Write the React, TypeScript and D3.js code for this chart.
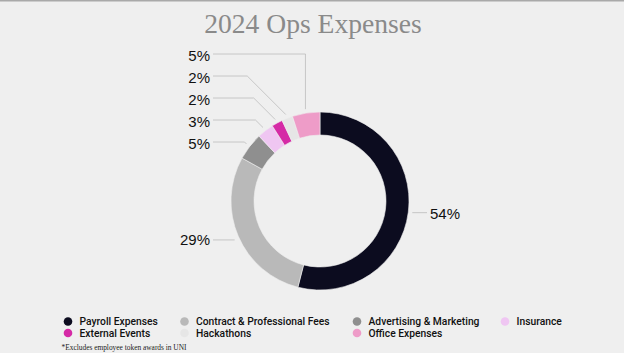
import React, { useMemo } from "react";
import * as d3 from "d3";

const categories = [
  "Payroll Expenses",
  "Contract & Professional Fees",
  "Advertising & Marketing",
  "Insurance",
  "External Events",
  "Hackathons",
  "Office Expenses",
];
const values = [54, 29, 5, 3, 2, 2, 5];
const colors = ["#0c0c1f", "#b9b9b9", "#8f8f8f", "#efc6f2", "#d52aa6", "#e6e6e6", "#ee9cc8"];

const WIDTH = 624;
const HEIGHT = 353;
const CX = 320;
const CY = 201;
const OUTER = 89;
const INNER = 66;
const BG = "#efefef";
const LEGEND_COLS = [68, 184.5, 357, 505];
const LEGEND_ROWS = [321.5, 333];

interface Slice {
  name: string;
  value: number;
  color: string;
}

const App: React.FC = () => {
  const slices: Slice[] = categories.map((name, i) => ({
    name,
    value: values[i],
    color: colors[i],
  }));

  const arcs = useMemo(() => {
    return d3
      .pie<Slice>()
      .sort(null)
      .value((d) => d.value)(slices);
  }, []);

  const arcGen = d3
    .arc<d3.PieArcDatum<Slice>>()
    .innerRadius(INNER)
    .outerRadius(OUTER);

  const labelArc = d3
    .arc<d3.PieArcDatum<Slice>>()
    .innerRadius(OUTER + 4)
    .outerRadius(OUTER + 4);

  // leader lines + labels
  const stacked = arcs.filter(
    (a) => (a.startAngle + a.endAngle) / 2 > Math.PI * 1.5
  );
  const labels = arcs.map((a, i) => {
    const [ex, ey] = labelArc.centroid(a);
    const px = CX + ex;
    const py = CY + ey;
    const mid = (a.startAngle + a.endAngle) / 2;
    const text = `${a.data.value}%`;
    const si = stacked.indexOf(a);
    let points: [number, number][];
    let tx: number;
    let ty: number;
    let anchor = "end";
    if (si >= 0) {
      const lineY = 142 - si * 22;
      const kx =
        si === stacked.length - 1 ? px : px - Math.max(0, py - lineY);
      points = [
        [px, py],
        [kx, lineY],
        [213, lineY],
      ];
      tx = 210;
      ty = lineY + 1.5;
    } else if (mid < Math.PI) {
      points = [
        [px, py],
        [427, py],
      ];
      tx = 430;
      ty = py + 1;
      anchor = "start";
    } else {
      points = [
        [px, py + 2],
        [213, py + 2],
      ];
      tx = 210;
      ty = py + 1.5;
    }
    return (
      <g key={i}>
        <polyline
          points={points.map((p) => p.join(",")).join(" ")}
          fill="none"
          stroke="#bdbdbd"
          strokeWidth={0.8}
        />
        <text
          x={tx}
          y={ty}
          textAnchor={anchor}
          dominantBaseline="central"
          fontFamily="'Liberation Sans', Arial, sans-serif"
          fontSize={15}
          fill="#111"
        >
          {text}
        </text>
      </g>
    );
  });

  return (
    <svg
      width={WIDTH}
      height={HEIGHT}
      style={{ position: "absolute", left: 0, top: 0, background: BG }}
    >
      <rect x={0} y={0} width={WIDTH} height={1.5} fill="#a9a9a9" />
      <text
        x={313}
        y={33}
        textAnchor="middle"
        fontFamily="'Liberation Serif', 'Times New Roman', serif"
        fontSize={27.6}
        fill="#8a8a8a"
      >
        2024 Ops Expenses
      </text>
      <g transform={`translate(${CX},${CY})`}>
        {arcs.map((a, i) => (
          <path
            key={i}
            d={arcGen(a) || ""}
            fill={a.data.color}
            stroke={BG}
            strokeWidth={0.6}
          />
        ))}
      </g>
      {labels}
      <g>
        {slices.map((s, i) => {
          const x = LEGEND_COLS[i % 4];
          const y = LEGEND_ROWS[Math.floor(i / 4)];
          return (
            <g key={i}>
              <circle cx={x} cy={y} r={4.3} fill={s.color} />
              <text
                x={x + 11.5}
                y={y}
                dominantBaseline="central"
                fontFamily="Roboto, 'Liberation Sans', sans-serif"
                fontWeight={500}
                fontSize={10.3}
                fill="#111"
              >
                {s.name}
              </text>
            </g>
          );
        })}
      </g>
      <text
        x={61.5}
        y={350}
        fontFamily="'Liberation Serif', 'Times New Roman', serif"
        fontSize={7.4}
        fill="#222"
      >
        *Excludes employee token awards in UNI
      </text>
    </svg>
  );
};

export default App;
